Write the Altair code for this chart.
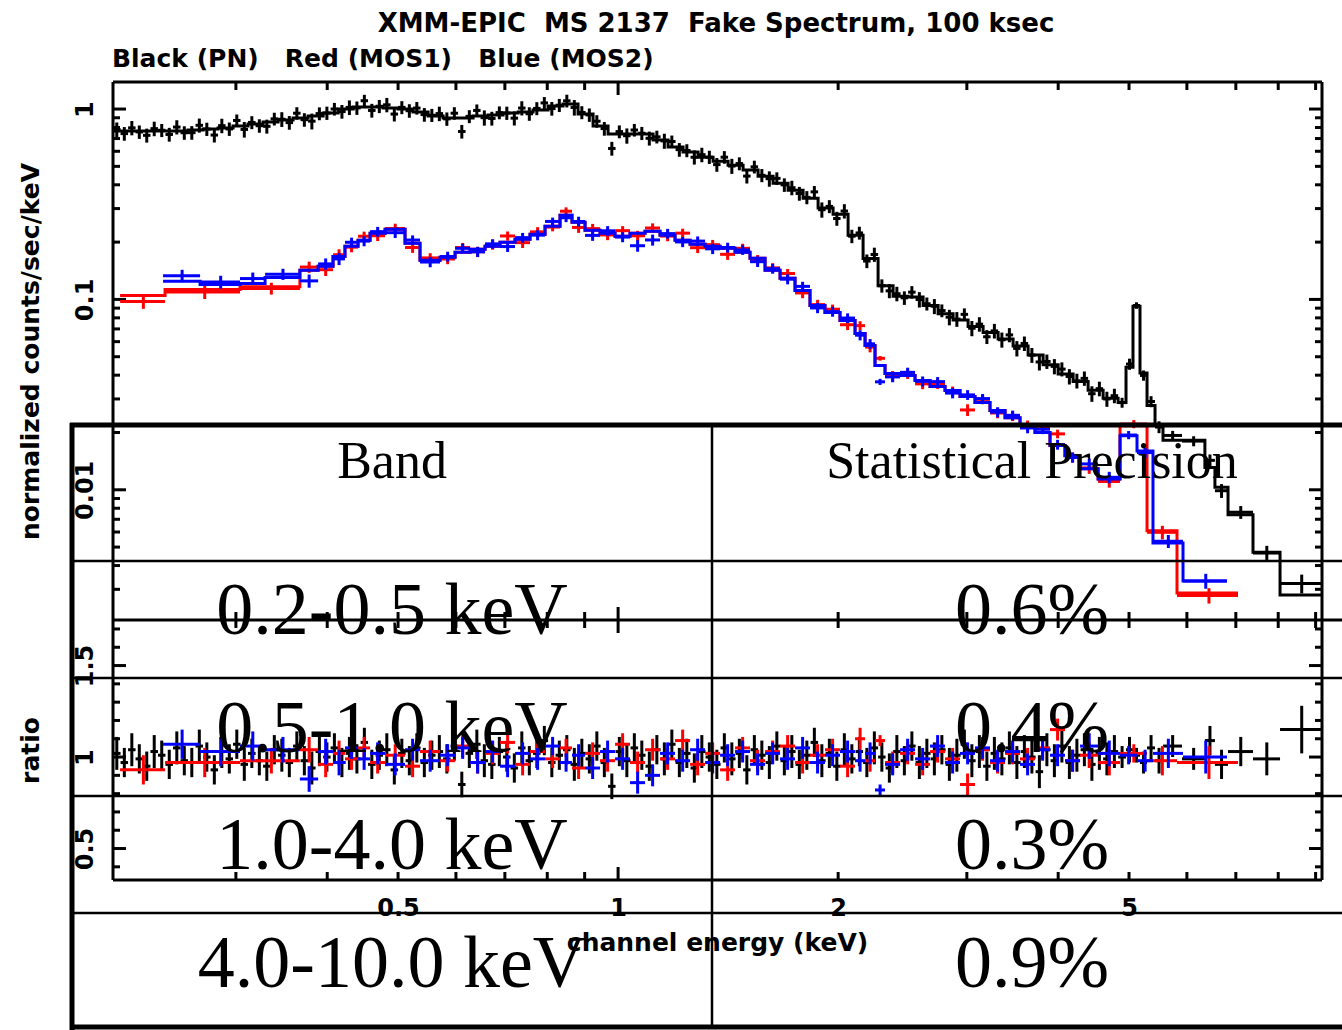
import altair as alt
import numpy as np
import pandas as pd

# ---------------- text ----------------
TITLE = "XMM-EPIC  MS 2137  Fake Spectrum, 100 ksec"
SUBTITLE = "Black (PN)   Red (MOS1)   Blue (MOS2)"
Y_TITLE = "normalized counts/sec/keV"
R_TITLE = "ratio"
X_TITLE = "channel energy (keV)"
TABLE_HEAD = ["Band", "Statistical Precision"]
BANDS = ["0.2-0.5 keV", "0.5-1.0 keV", "1.0-4.0 keV", "4.0-10.0 keV"]
PRECISION = ["0.6%", "0.4%", "0.3%", "0.9%"]

# ---------------- axes ----------------
X_DOMAIN = [0.2037, 9.183]
Y_DOMAIN = [0.00207, 1.387]
R_DOMAIN = [0.328, 1.749]
X_LABELS = [0.5, 1, 2, 5]
X_TICKS_MINOR = [0.3, 0.4, 0.5, 0.6, 0.7, 0.8, 0.9, 2, 3, 4, 5, 6, 7, 8, 9]
X_TICKS_MAJOR = [1]
Y_TICKS_MAJOR = [0.01, 0.1, 1]
Y_TICKS_MINOR = [0.003, 0.004, 0.005, 0.006, 0.007, 0.008, 0.009,
                 0.02, 0.03, 0.04, 0.05, 0.06, 0.07, 0.08, 0.09,
                 0.2, 0.3, 0.4, 0.5, 0.6, 0.7, 0.8, 0.9]
R_TICKS_MAJOR = [0.5, 1.0, 1.5]
R_TICKS_MINOR = [0.4, 0.6, 0.7, 0.8, 0.9, 1.1, 1.2, 1.3, 1.4, 1.6, 1.7]

# ---------------- PN (black) : model steps ----------------
PN_EDGES = [0.2037, 0.2136, 0.2239, 0.2347, 0.2461, 0.2580, 0.2705, 0.2836, 0.2973, 0.3117,
            0.3268, 0.3426, 0.3592, 0.3766, 0.3949, 0.4140, 0.4340, 0.4549, 0.4769, 0.5000,
            0.5242, 0.5496, 0.5762, 0.6040, 0.6333, 0.6639, 0.6960, 0.7297, 0.7650, 0.8020,
            0.8408, 0.8815, 0.9242, 0.9689, 1.0158, 1.0649, 1.1165, 1.1705, 1.2271, 1.2865,
            1.3488, 1.4140, 1.4825, 1.5542, 1.6294, 1.7082, 1.7909, 1.8776, 1.9684, 2.0637,
            2.1635, 2.2682, 2.3780, 2.4931, 2.6137, 2.7402, 2.8728, 3.0118, 3.1576, 3.3104,
            3.4706, 3.6385, 3.8146, 3.9992, 4.1927, 4.3956, 4.6083, 4.8313, 4.953, 5.063,
            5.176, 5.292, 5.427, 5.565, 5.908, 6.350, 6.554, 6.830, 7.389, 8.046, 9.183]
PN_MODEL = [0.766, 0.766, 0.766, 0.766, 0.766, 0.775, 0.785, 0.794, 0.814, 0.834,
            0.854, 0.875, 0.897, 0.919, 0.953, 1.000, 1.024, 1.024, 1.012, 1.000,
            0.964, 0.919, 0.897, 0.897, 0.919, 0.930, 0.953, 0.964, 0.988, 1.037,
            1.062, 0.941, 0.814, 0.739, 0.739, 0.739, 0.687, 0.631, 0.594, 0.559,
            0.532, 0.507, 0.478, 0.444, 0.408, 0.375, 0.340, 0.302, 0.280, 0.217,
            0.164, 0.118, 0.104, 0.103, 0.093, 0.084, 0.078, 0.072, 0.067, 0.062,
            0.057, 0.051, 0.0454, 0.0406, 0.0370, 0.0333, 0.0303, 0.0287, 0.0440, 0.0920,
            0.0411, 0.0277, 0.0218, 0.0182, 0.0182, 0.0131, 0.0103, 0.0074, 0.0047, 0.0028]

# ---------------- PN (black) : data bins ----------------
PN_DATA_EDGES = [
    0.2037, 0.2086, 0.2136, 0.2187, 0.2239, 0.2292, 0.2347, 0.2403, 0.2461, 0.2520,
    0.2580, 0.2642, 0.2705, 0.2770, 0.2836, 0.2904, 0.2973, 0.3044, 0.3117, 0.3192,
    0.3268, 0.3346, 0.3426, 0.3508, 0.3592, 0.3678, 0.3766, 0.3856, 0.3949, 0.4043,
    0.4140, 0.4239, 0.4340, 0.4444, 0.4549, 0.4658, 0.4769, 0.4883, 0.5000, 0.5120,
    0.5242, 0.5367, 0.5496, 0.5627, 0.5762, 0.5900, 0.6040, 0.6184, 0.6333, 0.6484,
    0.6639, 0.6798, 0.6960, 0.7126, 0.7297, 0.7471, 0.7650, 0.7833, 0.8020, 0.8212,
    0.8408, 0.8609, 0.8815, 0.9026, 0.9242, 0.9463, 0.9689, 0.9920, 1.0158, 1.0401,
    1.0649, 1.0903, 1.1165, 1.1432, 1.1705, 1.1985, 1.2271, 1.2564, 1.2865, 1.3172,
    1.3488, 1.3810, 1.4140, 1.4478, 1.4825, 1.5179, 1.5542, 1.5913, 1.6294, 1.6683,
    1.7082, 1.7490, 1.7909, 1.8337, 1.8776, 1.9225, 1.9684, 2.0154, 2.0637, 2.1130,
    2.1635, 2.2152, 2.2682, 2.3224, 2.3780, 2.4348, 2.4931, 2.5527, 2.6137, 2.6762,
    2.7402, 2.8057, 2.8728, 2.9414, 3.0118, 3.0838, 3.1576, 3.2331, 3.3104, 3.3895,
    3.4706, 3.5535, 3.6385, 3.7255, 3.8146, 3.9058, 3.9992, 4.0948, 4.1927, 4.2929,
    4.3956, 4.5006, 4.6083, 4.7184, 4.8313,
    4.953, 5.063, 5.176, 5.292, 5.427, 5.565, 5.908, 6.350, 6.554, 6.830, 7.389, 8.046, 9.183]
PN_RATIO = [1.02, 0.97, 1.04, 0.99, 0.95, 1.03, 1.01, 0.96, 1.05, 0.98,
            0.97, 1.06, 1.00, 0.93, 1.03, 0.99, 1.07, 0.96, 1.02, 0.98,
            0.95, 1.04, 1.01, 0.97, 1.06, 0.98, 0.94, 1.03, 1.00, 1.05,
            0.97, 1.02, 0.99, 1.08, 0.96, 1.01, 1.04, 0.93, 1.02, 0.98,
            1.05, 0.97, 1.01, 1.03, 0.99, 1.06, 0.85, 1.02, 1.07, 0.98,
            0.96, 1.03, 1.00, 0.94, 1.05, 0.98, 1.02, 1.09, 0.97, 1.01,
            1.04, 0.96, 1.02, 0.99, 1.06, 0.97, 0.84, 1.03, 0.98, 1.05,
            1.01, 0.95, 1.04, 0.99, 1.07, 0.97, 1.02, 0.94, 1.03, 1.00,
            0.96, 1.05, 0.99, 1.02, 0.93, 1.04, 1.01, 0.97, 1.06, 0.98,
            1.03, 0.96, 1.01, 1.08, 0.98, 1.02, 0.95, 1.04, 0.99, 1.03,
            0.97, 1.05, 1.00, 0.94, 1.03, 0.98, 1.06, 0.97, 1.02, 0.99,
            1.04, 0.96, 1.01, 1.07, 0.98, 1.03, 0.95, 1.02, 0.99, 1.05,
            0.97, 1.03, 1.00, 0.92, 1.04, 0.98, 1.06, 0.97, 1.01, 1.04,
            0.96, 1.02, 0.99, 1.03,
            1.00, 1.04, 1.01, 0.97, 1.05, 0.98, 1.06, 0.99, 1.09, 0.96, 1.03, 0.99, 1.15]
PN_RERR = [0.09, 0.08, 0.09, 0.08, 0.08, 0.09, 0.08, 0.08, 0.09, 0.08,
           0.08, 0.09, 0.08, 0.08, 0.09, 0.08, 0.08, 0.09, 0.08, 0.08,
           0.08, 0.08, 0.09, 0.08, 0.08, 0.08, 0.09, 0.08, 0.08, 0.08,
           0.08, 0.09, 0.08, 0.08, 0.08, 0.08, 0.09, 0.08, 0.08, 0.08,
           0.08, 0.08, 0.08, 0.09, 0.08, 0.08, 0.07, 0.08, 0.08, 0.09,
           0.08, 0.08, 0.08, 0.08, 0.09, 0.08, 0.08, 0.08, 0.08, 0.08,
           0.08, 0.09, 0.08, 0.08, 0.08, 0.08, 0.07, 0.08, 0.09, 0.08,
           0.08, 0.08, 0.08, 0.09, 0.08, 0.08, 0.08, 0.08, 0.09, 0.08,
           0.08, 0.08, 0.09, 0.08, 0.08, 0.08, 0.08, 0.09, 0.08, 0.08,
           0.09, 0.08, 0.08, 0.08, 0.09, 0.08, 0.08, 0.09, 0.08, 0.08,
           0.08, 0.09, 0.08, 0.08, 0.09, 0.08, 0.08, 0.09, 0.08, 0.09,
           0.08, 0.09, 0.09, 0.08, 0.09, 0.09, 0.08, 0.09, 0.09, 0.09,
           0.09, 0.09, 0.09, 0.09, 0.09, 0.09, 0.09, 0.09, 0.09, 0.09,
           0.09, 0.09, 0.09, 0.09,
           0.06, 0.07, 0.04, 0.06, 0.07, 0.07, 0.06, 0.06, 0.08, 0.08, 0.08, 0.09, 0.13]

# ---------------- MOS (red / blue) ----------------
MOS_MID_EDGES = [0.3887, 0.4074, 0.4230, 0.4408, 0.4578, 0.4800, 0.5111, 0.5358, 0.5707, 0.5984,
                 0.6273, 0.6576, 0.6894, 0.7228, 0.7577, 0.7944, 0.8328, 0.8649, 0.9011, 0.9447,
                 0.9904, 1.0383, 1.0886, 1.1412, 1.1965, 1.2545, 1.3152, 1.3788, 1.4454, 1.5153,
                 1.5887, 1.6656, 1.7461, 1.8304, 1.9188, 2.0118, 2.1094, 2.1771, 2.2464, 2.3184,
                 2.4309, 2.5483, 2.6716, 2.8008, 2.9361, 3.0781, 3.2268, 3.3835, 3.5470, 3.7185,
                 3.8983, 4.0867, 4.2852, 4.5363, 4.8603]
MOS_MID_MODEL = [0.1422, 0.1492, 0.1683, 0.1901, 0.2045, 0.2226, 0.2335, 0.1972, 0.1604, 0.1664,
                 0.1767, 0.1834, 0.1901, 0.1995, 0.2070, 0.2198, 0.2423, 0.2768, 0.2541, 0.2308,
                 0.2226, 0.2147, 0.2226, 0.2281, 0.2173, 0.2045, 0.1947, 0.1901, 0.1855, 0.1767,
                 0.1644, 0.1422, 0.1290, 0.1115, 0.0930, 0.0854, 0.0775, 0.0662, 0.0573, 0.0450,
                 0.0408, 0.0398, 0.0375, 0.0349, 0.0332, 0.0309, 0.0287, 0.0261, 0.0239, 0.0220,
                 0.0200, 0.0171, 0.0151, 0.0129, 0.0114]
MOS_MID_RERR = [0.07, 0.07, 0.07, 0.06, 0.06, 0.06, 0.06, 0.06, 0.06, 0.06,
                0.06, 0.06, 0.06, 0.06, 0.06, 0.06, 0.05, 0.05, 0.06, 0.06,
                0.06, 0.06, 0.06, 0.06, 0.06, 0.06, 0.06, 0.06, 0.06, 0.06,
                0.06, 0.06, 0.06, 0.06, 0.06, 0.06, 0.06, 0.06, 0.06, 0.03,
                0.06, 0.06, 0.06, 0.06, 0.06, 0.06, 0.06, 0.06, 0.06, 0.06,
                0.06, 0.06, 0.06, 0.07, 0.07]

MOS1_EDGES = [0.2083, 0.2400, 0.3039, 0.3670] + MOS_MID_EDGES + [5.292, 5.816, 7.048]
MOS1_MODEL = [0.1050, 0.1129, 0.1165] + MOS_MID_MODEL + [0.0217, 0.0061, 0.00287]
MOS1_RATIO = ([0.93, 0.97, 0.98] +
              [1.04, 0.96, 1.02, 0.99, 1.05, 0.97, 1.01, 0.95, 1.03, 0.98,
               1.06, 0.97, 1.02, 1.08, 0.96, 1.03, 0.99, 1.05, 0.94, 1.02,
               0.98, 1.07, 0.97, 1.04, 0.99, 1.09, 0.96, 1.02, 0.93, 1.05,
               0.98, 1.03, 1.06, 0.97, 1.01, 1.04, 0.95, 1.10, 0.98, 1.09,
               0.97, 1.02, 0.96, 1.03, 0.99, 0.85, 1.04, 0.97, 1.02, 0.99,
               1.05, 1.15, 0.98, 1.01, 0.97] +
              [1.02, 0.98, 0.97])
MOS1_RERR = [0.08, 0.08, 0.07] + MOS_MID_RERR + [0.05, 0.08, 0.09]

MOS2_EDGES = [0.2385, 0.2680, 0.3039, 0.3289, 0.3670] + MOS_MID_EDGES + [5.1275, 5.392, 5.927, 6.808]
MOS2_MODEL = [0.1244, 0.1199, 0.1214, 0.1305] + MOS_MID_MODEL + [0.0192, 0.0160, 0.00526, 0.00332]
MOS2_RATIO = ([1.07, 1.03, 1.06, 1.04] +
              [0.88, 1.03, 0.97, 1.05, 0.99, 1.02, 0.96, 1.04, 0.98, 1.01,
               1.05, 0.97, 1.03, 0.95, 1.02, 0.99, 1.06, 0.97, 1.01, 0.94,
               1.03, 0.99, 0.86, 0.90, 1.02, 0.98, 1.04, 0.97, 1.01, 1.03,
               0.96, 1.02, 0.99, 1.05, 0.97, 1.01, 1.03, 0.98, 1.02, 0.82,
               0.96, 1.04, 0.99, 1.06, 0.97, 1.02, 1.05, 0.98, 1.03, 0.96,
               1.04, 1.01, 0.98, 1.06, 1.02] +
              [1.01, 0.98, 1.02, 1.00])
MOS2_RERR = [0.08, 0.08, 0.08, 0.07] + MOS_MID_RERR + [0.05, 0.06, 0.08, 0.09]

# ---------------- layout ----------------
W, H = 1342, 1030
PL, PR, PT, PM, PB = 113, 1322, 82, 620, 880
XF = "DejaVu Sans"
SERIF = "Liberation Serif"
LW = 3

xs = alt.Scale(type="log", domain=X_DOMAIN, range=[PL, PR], nice=False)
ys = alt.Scale(type="log", domain=Y_DOMAIN, range=[PM, PT], nice=False)
rs = alt.Scale(type="linear", domain=R_DOMAIN, range=[PB, PM], nice=False, zero=False)


def nb(s):
    return s.replace(" ", "\u00a0")


def build(model_edges, model, data_edges, ratio, rerr):
    n = len(ratio)
    df = pd.DataFrame({"elo": data_edges[:n], "ehi": data_edges[1:n + 1],
                       "r": ratio, "re": rerr})
    df["ec"] = (df["elo"] + df["ehi"]) / 2
    idx = np.searchsorted(np.array(model_edges), df["ec"].to_numpy()) - 1
    df["m"] = np.array(model)[idx]
    df["d"] = df["m"] * df["r"]
    df["dlo"] = df["m"] * (df["r"] - df["re"])
    df["dhi"] = df["m"] * (df["r"] + df["re"])
    df["rlo"] = df["r"] - df["re"]
    df["rhi"] = df["r"] + df["re"]
    nm = len(model)
    step = pd.DataFrame({"e": list(model_edges[:nm + 1]), "m": list(model) + [model[-1]]})
    return df, step


def series_layers(model_edges, model, data_edges, ratio, rerr, color):
    df, step = build(model_edges, model, data_edges, ratio, rerr)
    X = lambda f: alt.X(f, type="quantitative", scale=xs, axis=None)
    YT = lambda f: alt.Y(f, type="quantitative", scale=ys, axis=None)
    YR = lambda f: alt.Y(f, type="quantitative", scale=rs, axis=None)
    base = alt.Chart(df)
    return [
        base.mark_rule(color=color, strokeWidth=LW).encode(x=X("elo"), x2="ehi", y=YT("d")),
        base.mark_rule(color=color, strokeWidth=LW).encode(x=X("ec"), y=YT("dlo"), y2="dhi"),
        alt.Chart(step).mark_line(color=color, strokeWidth=LW, interpolate="step-after",
                                  strokeJoin="miter").encode(x=X("e"), y=YT("m")),
        base.mark_rule(color=color, strokeWidth=LW).encode(x=X("elo"), x2="ehi", y=YR("r")),
        base.mark_rule(color=color, strokeWidth=LW).encode(x=X("ec"), y=YR("rlo"), y2="rhi"),
    ]


def yticks(vals, scale, x1, x2, axis=None):
    return alt.Chart(pd.DataFrame({"v": vals})).mark_rule(color="black", strokeWidth=LW).encode(
        y=alt.Y("v:Q", scale=scale, axis=axis), x=alt.value(x1), x2=alt.value(x2))


def xticks(vals, y1, y2, axis=None):
    return alt.Chart(pd.DataFrame({"v": vals})).mark_rule(color="black", strokeWidth=LW).encode(
        x=alt.X("v:Q", scale=xs, axis=axis), y=alt.value(y1), y2=alt.value(y2))


ONE = pd.DataFrame({"a": [0]})


def hline(x1, x2, y, w):
    return alt.Chart(ONE).mark_rule(color="black", strokeWidth=w).encode(
        x=alt.value(x1), x2=alt.value(x2), y=alt.value(y))


def vline(x, y1, y2, w):
    return alt.Chart(ONE).mark_rule(color="black", strokeWidth=w).encode(
        x=alt.value(x), y=alt.value(y1), y2=alt.value(y2))


lab = dict(domain=False, ticks=False, tickSize=0, grid=False, format="~g",
           labelFont=XF, labelFontSize=24, labelFontWeight="bold", labelColor="black",
           labelOverlap=False, labelFlush=False,
           titleFont=XF, titleFontSize=25, titleFontWeight="bold", titleColor="black")

y_axis_top = alt.Axis(orient="left", offset=-PL, values=Y_TICKS_MAJOR, labelAngle=270,
                      labelAlign="center", labelBaseline="middle", labelPadding=28,
                      title=Y_TITLE, titleAngle=270, titleAlign="center", titleBaseline="middle",
                      titleX=30 - PL, titleY=351, **lab)
y_axis_rat = alt.Axis(orient="left", offset=-PL, values=R_TICKS_MAJOR, labelAngle=270,
                      labelAlign="center", labelBaseline="middle", labelPadding=28,
                      title=R_TITLE, titleAngle=270, titleAlign="center", titleBaseline="middle",
                      titleX=30 - PL, titleY=750, **lab)
x_axis = alt.Axis(orient="bottom", offset=PB - H, values=X_LABELS, labelAngle=0,
                  labelAlign="center", labelBaseline="alphabetic", labelPadding=35,
                  title=X_TITLE, titleAlign="center", titleBaseline="alphabetic",
                  titleX=717, titleY=70, **lab)

layers = []
# tick marks (inward) and axis labels
layers += [
    yticks(Y_TICKS_MAJOR, ys, PL, PL + 13, axis=y_axis_top),
    yticks(Y_TICKS_MINOR, ys, PL, PL + 7),
    yticks(Y_TICKS_MAJOR, ys, PR - 13, PR),
    yticks(Y_TICKS_MINOR, ys, PR - 7, PR),
    yticks(R_TICKS_MAJOR, rs, PL, PL + 13, axis=y_axis_rat),
    yticks(R_TICKS_MINOR, rs, PL, PL + 7),
    yticks(R_TICKS_MAJOR, rs, PR - 13, PR),
    yticks(R_TICKS_MINOR, rs, PR - 7, PR),
    xticks(X_TICKS_MINOR, PT, PT + 8),
    xticks(X_TICKS_MAJOR, PT, PT + 13),
    xticks(X_TICKS_MINOR, PM - 8, PM + 8),
    xticks(X_TICKS_MAJOR, PM - 13, PM + 13),
    xticks(X_TICKS_MINOR, PB - 8, PB),
    xticks(X_TICKS_MAJOR, PB - 13, PB, axis=x_axis),
]
# plot frames
layers += [
    hline(PL, PR, PT, LW), hline(PL, W, PM, LW), hline(PL, PR, PB, LW),
    vline(PL, PT, PB, LW), vline(PR, PT, PB, LW),
]
# spectra
layers += series_layers(PN_EDGES, PN_MODEL, PN_DATA_EDGES, PN_RATIO, PN_RERR, "#000000")
layers += series_layers(MOS1_EDGES, MOS1_MODEL, MOS1_EDGES, MOS1_RATIO, MOS1_RERR, "#ff0000")
layers += series_layers(MOS2_EDGES, MOS2_MODEL, MOS2_EDGES, MOS2_RATIO, MOS2_RERR, "#0000ff")

# titles
layers += [
    alt.Chart(pd.DataFrame({"t": [nb(TITLE)]})).mark_text(
        font=XF, fontSize=26, fontWeight="bold", align="center", baseline="alphabetic",
        color="black").encode(text="t:N", x=alt.value(716), y=alt.value(32)),
    alt.Chart(pd.DataFrame({"t": [nb(SUBTITLE)]})).mark_text(
        font=XF, fontSize=25, fontWeight="bold", align="left", baseline="alphabetic",
        color="black").encode(text="t:N", x=alt.value(112), y=alt.value(67)),
]

# overlaid table
rows = pd.DataFrame({"row": [1, 2, 3, 4], "band": BANDS, "prec": PRECISION})
row_scale = alt.Scale(domain=[1, 4], range=[634, 987], nice=False, zero=False)
layers += [
    alt.Chart(pd.DataFrame({"t": [TABLE_HEAD[0]]})).mark_text(
        font=SERIF, fontSize=52, align="center", baseline="alphabetic", color="black").encode(
        text="t:N", x=alt.value(392), y=alt.value(478)),
    alt.Chart(pd.DataFrame({"t": [TABLE_HEAD[1]]})).mark_text(
        font=SERIF, fontSize=52, align="center", baseline="alphabetic", color="black").encode(
        text="t:N", x=alt.value(1032), y=alt.value(478)),
    alt.Chart(rows).mark_text(font=SERIF, fontSize=74, align="center", baseline="alphabetic",
                              color="black").encode(
        text="band:N", x=alt.value(392), y=alt.Y("row:Q", scale=row_scale, axis=None)),
    alt.Chart(rows).mark_text(font=SERIF, fontSize=74, align="center", baseline="alphabetic",
                              color="black").encode(
        text="prec:N", x=alt.value(1032), y=alt.Y("row:Q", scale=row_scale, axis=None)),
]
layers += [
    hline(70, W, 425, 5),
    hline(70, W, 1027, 5),
    vline(72, 423, 1030, 5),
    vline(712, 425, 1027, 2.5),
    hline(72, W, 561, 2.5),
    hline(72, W, 678, 2.5),
    hline(72, W, 796, 2.5),
    hline(72, W, 913, 2.5),
]

chart = alt.layer(*layers).resolve_scale(x="independent", y="independent").properties(
    width=W, height=H, padding=0, background="white",
    autosize=alt.AutoSizeParams(type="none"),
).configure_view(stroke=None)

chart.save("out.html", embed_options={"renderer": "svg", "actions": False})
